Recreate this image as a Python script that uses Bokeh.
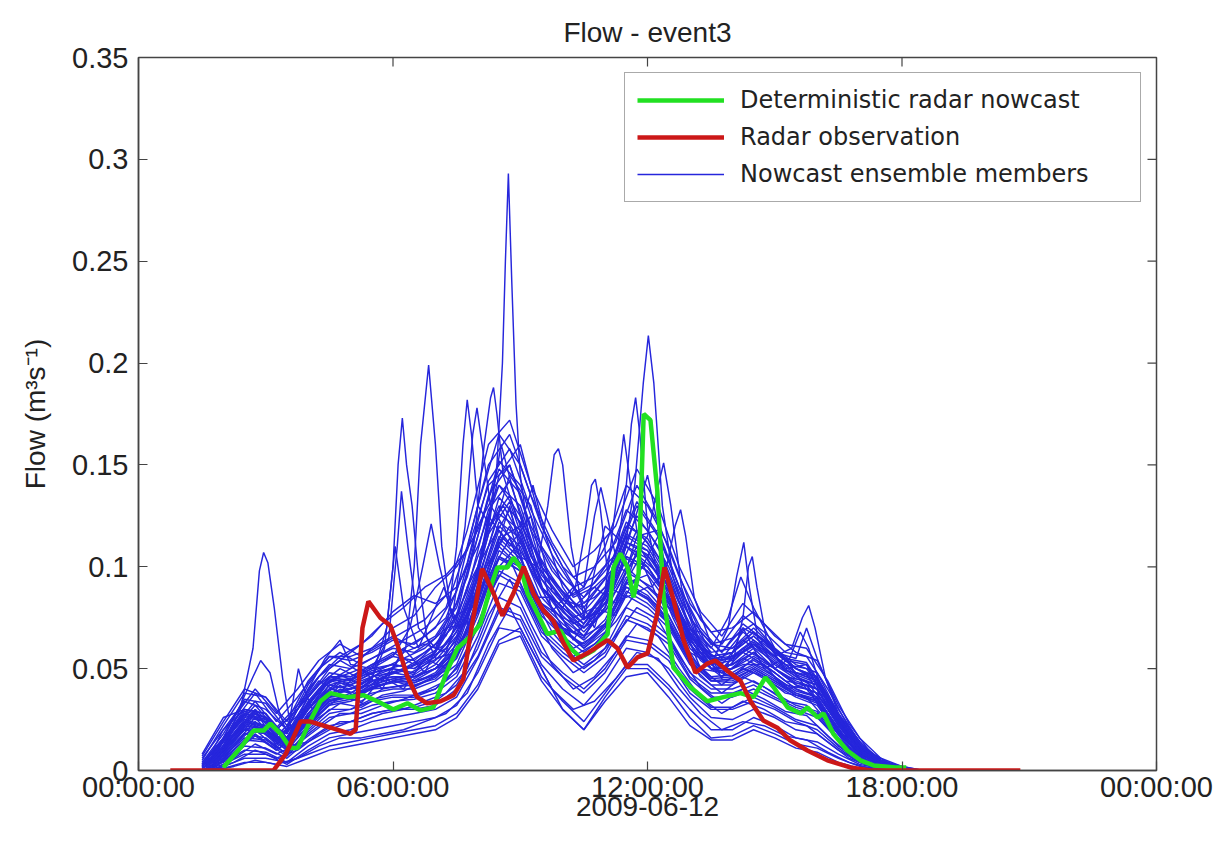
import math
from bokeh.plotting import figure
from bokeh.models import Range1d, FixedTicker, Legend, LegendItem
from bokeh.embed import file_html
from bokeh.resources import INLINE

# ---------------- data ----------------
title_text = "Flow - event3"
x_label = "2009-06-12"
y_label = "Flow (m³s⁻¹)"
x_ticks = [0, 6, 12, 18, 24]
x_tick_labels = ["00:00:00", "06:00:00", "12:00:00", "18:00:00", "00:00:00"]
y_ticks = [0, 0.05, 0.1, 0.15, 0.2, 0.25, 0.3, 0.35]
y_tick_labels = ["0", "0.05", "0.1", "0.15", "0.2", "0.25", "0.3", "0.35"]

# Radar observation (hours after 00:00, flow)
obs_hours = [0.75, 3.18, 3.47, 3.82, 4.05, 4.53, 5.0, 5.12, 5.28, 5.42, 5.7, 5.94, 6.1, 6.34, 6.57, 6.8,
             7.12, 7.43, 7.66, 7.85, 8.1, 8.37, 8.58, 8.84, 9.08, 9.31, 9.55, 9.78, 10.02, 10.25, 10.58,
             11.06, 11.29, 11.53, 11.76, 12.0, 12.23, 12.4, 12.61, 12.85, 13.13, 13.41, 13.6, 13.88,
             14.19, 14.43, 14.73, 15.06, 15.37, 15.77, 16.24, 16.78, 17.26, 20.79]
obs_flow = [0, 0, 0.008, 0.024, 0.024, 0.021, 0.018, 0.02, 0.07, 0.083, 0.075, 0.071, 0.062, 0.046, 0.036, 0.033,
            0.034, 0.037, 0.045, 0.07, 0.099, 0.087, 0.076, 0.087, 0.1, 0.087, 0.0785, 0.0735, 0.0625, 0.054, 0.0575,
            0.064, 0.06, 0.0505, 0.0555, 0.0575, 0.077, 0.0997, 0.084, 0.064, 0.048, 0.0525, 0.054, 0.049,
            0.044, 0.034, 0.0245, 0.021, 0.0147, 0.0098, 0.005, 0.0015, 0, 0]

# Deterministic radar nowcast
det_hours = [2.0, 2.4, 2.71, 2.95, 3.11, 3.35, 3.58, 3.75, 4.05, 4.29, 4.53, 4.93, 5.3, 5.63, 6.01, 6.34,
             6.65, 6.95, 7.28, 7.52, 7.83, 8.06, 8.3, 8.46, 8.7, 8.84, 9.01, 9.17, 9.41, 9.64, 9.95, 10.18,
             10.42, 10.73, 11.06, 11.2, 11.36, 11.53, 11.67, 11.79, 11.91, 12.07, 12.23, 12.38, 12.61, 13.01,
             13.41, 13.79, 14.19, 14.5, 14.78, 14.97, 15.3, 15.61, 15.77, 16.01, 16.15, 16.38, 16.71, 17.02,
             17.33, 17.85, 18.1]
det_flow = [0.0015, 0.011, 0.0196, 0.0196, 0.023, 0.018, 0.011, 0.011, 0.0245, 0.034, 0.038, 0.036, 0.037, 0.034, 0.03, 0.033,
            0.0295, 0.031, 0.049, 0.06, 0.066, 0.072, 0.09, 0.0997, 0.0997, 0.1045, 0.0997, 0.087, 0.077, 0.067, 0.0687, 0.06,
            0.0555, 0.059, 0.067, 0.0997, 0.1065, 0.0997, 0.085, 0.0967, 0.175, 0.172, 0.1375, 0.085, 0.0506, 0.041,
            0.034, 0.036, 0.038, 0.036, 0.0457, 0.041, 0.031, 0.028, 0.031, 0.026, 0.028, 0.018, 0.0098, 0.005,
            0.0025, 0.0015, 0.0015]

# Nowcast ensemble members on a half-hourly grid
ens_hours = [1.5, 2.0, 2.5, 3.0, 3.5, 4.0, 4.5, 5.0, 5.5, 6.0, 6.5, 7.0, 7.5, 8.0, 8.5, 9.0, 9.5, 10.0,
             10.5, 11.0, 11.5, 12.0, 12.5, 13.0, 13.5, 14.0, 14.5, 15.0, 15.5, 16.0, 16.5, 17.0, 17.5, 18.0, 18.5]
ens_members = [
    [0.002, 0.012, 0.025, 0.022, 0.012, 0.028, 0.038, 0.036, 0.042, 0.045, 0.043, 0.048, 0.06, 0.088, 0.118, 0.105, 0.082, 0.072, 0.064, 0.074, 0.095, 0.088, 0.076, 0.056, 0.046, 0.047, 0.052, 0.046, 0.039, 0.036, 0.02, 0.009, 0.003, 0.001, 0],
    [0.004, 0.018, 0.035, 0.033, 0.02, 0.04, 0.052, 0.05, 0.055, 0.06, 0.058, 0.065, 0.08, 0.115, 0.152, 0.14, 0.11, 0.095, 0.085, 0.1, 0.128, 0.118, 0.1, 0.075, 0.062, 0.065, 0.072, 0.06, 0.052, 0.048, 0.028, 0.014, 0.005, 0.002, 0],
    [0, 0.004, 0.01, 0.009, 0.004, 0.012, 0.018, 0.02, 0.024, 0.026, 0.028, 0.03, 0.036, 0.055, 0.078, 0.074, 0.052, 0.04, 0.032, 0.044, 0.06, 0.058, 0.05, 0.036, 0.026, 0.025, 0.03, 0.026, 0.02, 0.018, 0.01, 0.004, 0.001, 0, 0],
    [0.006, 0.02, 0.03, 0.026, 0.016, 0.034, 0.046, 0.044, 0.05, 0.052, 0.05, 0.058, 0.075, 0.105, 0.13, 0.112, 0.09, 0.08, 0.07, 0.082, 0.105, 0.1, 0.084, 0.062, 0.05, 0.052, 0.06, 0.05, 0.044, 0.04, 0.024, 0.011, 0.004, 0.001, 0],
    [0.001, 0.01, 0.02, 0.018, 0.01, 0.022, 0.032, 0.034, 0.038, 0.04, 0.04, 0.044, 0.052, 0.076, 0.105, 0.098, 0.076, 0.066, 0.058, 0.066, 0.086, 0.08, 0.07, 0.052, 0.042, 0.042, 0.048, 0.042, 0.036, 0.032, 0.018, 0.008, 0.003, 0.001, 0],
    [0, 0.006, 0.015, 0.014, 0.007, 0.018, 0.026, 0.028, 0.032, 0.034, 0.035, 0.038, 0.046, 0.066, 0.092, 0.088, 0.066, 0.056, 0.048, 0.056, 0.074, 0.07, 0.062, 0.045, 0.036, 0.036, 0.04, 0.035, 0.03, 0.026, 0.015, 0.006, 0.002, 0, 0],
    [0.003, 0.015, 0.03, 0.028, 0.016, 0.036, 0.048, 0.046, 0.052, 0.058, 0.052, 0.062, 0.072, 0.1, 0.145, 0.16, 0.12, 0.1, 0.082, 0.094, 0.122, 0.112, 0.094, 0.07, 0.056, 0.058, 0.066, 0.056, 0.048, 0.044, 0.026, 0.012, 0.005, 0.001, 0],
    [0, 0.006, 0.018, 0.02, 0.012, 0.024, 0.034, 0.038, 0.044, 0.046, 0.046, 0.05, 0.058, 0.07, 0.1, 0.112, 0.09, 0.076, 0.066, 0.072, 0.092, 0.096, 0.082, 0.06, 0.05, 0.05, 0.056, 0.05, 0.042, 0.038, 0.022, 0.01, 0.004, 0.001, 0],
    [0, 0.003, 0.008, 0.008, 0.003, 0.01, 0.016, 0.018, 0.02, 0.022, 0.024, 0.026, 0.032, 0.048, 0.07, 0.068, 0.046, 0.034, 0.024, 0.038, 0.052, 0.052, 0.042, 0.03, 0.02, 0.02, 0.026, 0.022, 0.016, 0.014, 0.008, 0.003, 0.001, 0, 0],
    [0.004, 0.016, 0.028, 0.025, 0.015, 0.032, 0.044, 0.042, 0.048, 0.05, 0.047, 0.054, 0.066, 0.094, 0.126, 0.118, 0.094, 0.082, 0.072, 0.084, 0.11, 0.104, 0.088, 0.066, 0.054, 0.055, 0.062, 0.054, 0.046, 0.042, 0.025, 0.011, 0.004, 0.001, 0],
    [0.002, 0.011, 0.024, 0.021, 0.011, 0.026, 0.036, 0.037, 0.04, 0.044, 0.041, 0.046, 0.056, 0.084, 0.11, 0.1, 0.078, 0.07, 0.06, 0.07, 0.09, 0.084, 0.072, 0.054, 0.044, 0.044, 0.05, 0.044, 0.037, 0.034, 0.019, 0.008, 0.003, 0.001, 0],
    [0.001, 0.008, 0.018, 0.016, 0.008, 0.02, 0.03, 0.03, 0.035, 0.037, 0.037, 0.04, 0.05, 0.07, 0.098, 0.092, 0.07, 0.06, 0.052, 0.06, 0.08, 0.075, 0.066, 0.048, 0.04, 0.04, 0.044, 0.038, 0.032, 0.029, 0.016, 0.007, 0.002, 0, 0],
    [0, 0.002, 0.006, 0.006, 0.004, 0.008, 0.012, 0.014, 0.016, 0.018, 0.02, 0.022, 0.028, 0.042, 0.064, 0.07, 0.05, 0.03, 0.02, 0.036, 0.05, 0.05, 0.04, 0.026, 0.016, 0.017, 0.022, 0.018, 0.013, 0.011, 0.006, 0.002, 0.001, 0, 0],
    [0.005, 0.022, 0.038, 0.036, 0.024, 0.044, 0.056, 0.054, 0.058, 0.064, 0.062, 0.07, 0.088, 0.13, 0.165, 0.15, 0.12, 0.1, 0.09, 0.11, 0.14, 0.13, 0.11, 0.082, 0.068, 0.07, 0.078, 0.066, 0.058, 0.054, 0.032, 0.016, 0.006, 0.002, 0],
    [0.002, 0.012, 0.022, 0.02, 0.013, 0.027, 0.037, 0.035, 0.041, 0.043, 0.044, 0.047, 0.058, 0.082, 0.112, 0.102, 0.08, 0.068, 0.062, 0.072, 0.092, 0.086, 0.074, 0.055, 0.045, 0.046, 0.051, 0.045, 0.038, 0.035, 0.02, 0.009, 0.003, 0.001, 0],
    [0.001, 0.009, 0.021, 0.019, 0.011, 0.024, 0.034, 0.036, 0.04, 0.041, 0.042, 0.045, 0.055, 0.078, 0.108, 0.1, 0.079, 0.069, 0.06, 0.068, 0.088, 0.082, 0.072, 0.053, 0.044, 0.043, 0.049, 0.043, 0.037, 0.033, 0.019, 0.008, 0.003, 0.001, 0],
    [0.003, 0.014, 0.027, 0.024, 0.014, 0.03, 0.042, 0.04, 0.046, 0.048, 0.046, 0.052, 0.064, 0.09, 0.122, 0.114, 0.09, 0.078, 0.068, 0.08, 0.104, 0.098, 0.084, 0.062, 0.05, 0.052, 0.058, 0.05, 0.043, 0.04, 0.023, 0.01, 0.004, 0.001, 0],
    [0, 0.005, 0.012, 0.011, 0.006, 0.015, 0.022, 0.024, 0.028, 0.03, 0.031, 0.034, 0.042, 0.06, 0.085, 0.08, 0.058, 0.048, 0.04, 0.05, 0.066, 0.064, 0.056, 0.04, 0.031, 0.031, 0.036, 0.031, 0.025, 0.022, 0.012, 0.005, 0.002, 0, 0],
    [0.002, 0.01, 0.02, 0.018, 0.01, 0.022, 0.033, 0.035, 0.04, 0.044, 0.046, 0.05, 0.06, 0.08, 0.104, 0.098, 0.08, 0.07, 0.066, 0.08, 0.112, 0.108, 0.09, 0.064, 0.052, 0.056, 0.064, 0.056, 0.048, 0.044, 0.026, 0.012, 0.004, 0.001, 0],
    [0.001, 0.007, 0.016, 0.015, 0.008, 0.019, 0.028, 0.03, 0.034, 0.036, 0.036, 0.04, 0.048, 0.072, 0.096, 0.09, 0.068, 0.058, 0.05, 0.058, 0.076, 0.072, 0.064, 0.046, 0.038, 0.038, 0.042, 0.036, 0.031, 0.028, 0.015, 0.006, 0.002, 0, 0],
    [0.007, 0.024, 0.04, 0.036, 0.022, 0.042, 0.056, 0.056, 0.06, 0.066, 0.06, 0.066, 0.082, 0.12, 0.14, 0.125, 0.1, 0.086, 0.074, 0.088, 0.115, 0.108, 0.09, 0.068, 0.056, 0.058, 0.066, 0.058, 0.05, 0.046, 0.027, 0.012, 0.005, 0.001, 0],
    [0.002, 0.012, 0.023, 0.02, 0.012, 0.025, 0.035, 0.036, 0.041, 0.044, 0.043, 0.047, 0.057, 0.085, 0.114, 0.104, 0.081, 0.07, 0.061, 0.071, 0.09, 0.085, 0.073, 0.054, 0.044, 0.045, 0.05, 0.044, 0.038, 0.034, 0.019, 0.008, 0.003, 0.001, 0],
    [0, 0.001, 0.004, 0.004, 0.002, 0.006, 0.01, 0.012, 0.014, 0.016, 0.018, 0.02, 0.026, 0.04, 0.062, 0.066, 0.044, 0.03, 0.02, 0.034, 0.046, 0.048, 0.036, 0.022, 0.015, 0.015, 0.02, 0.016, 0.011, 0.009, 0.004, 0.001, 0, 0, 0],
    [0.003, 0.015, 0.029, 0.026, 0.016, 0.033, 0.045, 0.043, 0.049, 0.052, 0.05, 0.056, 0.07, 0.098, 0.134, 0.122, 0.096, 0.084, 0.074, 0.086, 0.112, 0.106, 0.09, 0.067, 0.055, 0.056, 0.063, 0.055, 0.047, 0.043, 0.025, 0.011, 0.004, 0.001, 0],
    [0.008, 0.026, 0.03, 0.028, 0.012, 0.014, 0.02, 0.024, 0.028, 0.03, 0.03, 0.032, 0.04, 0.056, 0.08, 0.076, 0.056, 0.046, 0.038, 0.048, 0.064, 0.062, 0.054, 0.038, 0.03, 0.03, 0.034, 0.03, 0.024, 0.02, 0.011, 0.004, 0.001, 0, 0],
    [0.003, 0.016, 0.028, 0.024, 0.018, 0.036, 0.05, 0.058, 0.066, 0.078, 0.086, 0.082, 0.09, 0.11, 0.14, 0.13, 0.098, 0.084, 0.08, 0.094, 0.12, 0.114, 0.096, 0.07, 0.058, 0.06, 0.07, 0.06, 0.05, 0.046, 0.027, 0.012, 0.004, 0.001, 0],
    [0.002, 0.012, 0.024, 0.02, 0.014, 0.03, 0.044, 0.05, 0.06, 0.07, 0.076, 0.09, 0.1, 0.118, 0.148, 0.136, 0.1, 0.088, 0.078, 0.09, 0.116, 0.11, 0.092, 0.066, 0.054, 0.058, 0.068, 0.058, 0.05, 0.044, 0.025, 0.011, 0.004, 0.001, 0],
]

# More ensemble members on a grid shifted by a quarter hour
ens_hours_b = [1.75, 2.25, 2.75, 3.25, 3.75, 4.25, 4.75, 5.25, 5.75, 6.25, 6.75, 7.25, 7.75, 8.25, 8.75, 9.25, 9.75,
               10.25, 10.75, 11.25, 11.75, 12.25, 12.75, 13.25, 13.75, 14.25, 14.75, 15.25, 15.75, 16.25, 16.75, 17.25, 17.75, 18.25]
ens_members_b = [
    [0.004, 0.02, 0.032, 0.02, 0.03, 0.042, 0.05, 0.045, 0.05, 0.055, 0.06, 0.07, 0.095, 0.135, 0.15, 0.12, 0.1, 0.085, 0.09, 0.1, 0.125, 0.11, 0.085, 0.066, 0.055, 0.068, 0.06, 0.052, 0.05, 0.035, 0.018, 0.007, 0.002, 0],
    [0.002, 0.014, 0.026, 0.014, 0.024, 0.036, 0.044, 0.04, 0.047, 0.05, 0.056, 0.062, 0.08, 0.12, 0.135, 0.105, 0.09, 0.075, 0.08, 0.09, 0.11, 0.1, 0.078, 0.058, 0.05, 0.06, 0.054, 0.046, 0.044, 0.03, 0.015, 0.006, 0.002, 0],
    [0.001, 0.008, 0.018, 0.01, 0.018, 0.028, 0.036, 0.034, 0.04, 0.042, 0.048, 0.052, 0.068, 0.1, 0.12, 0.09, 0.072, 0.06, 0.066, 0.078, 0.095, 0.086, 0.066, 0.05, 0.042, 0.05, 0.046, 0.038, 0.036, 0.024, 0.011, 0.004, 0.001, 0],
    [0.005, 0.024, 0.038, 0.024, 0.036, 0.05, 0.058, 0.052, 0.058, 0.064, 0.07, 0.08, 0.11, 0.15, 0.165, 0.135, 0.112, 0.095, 0.1, 0.112, 0.14, 0.122, 0.095, 0.074, 0.062, 0.076, 0.068, 0.058, 0.056, 0.04, 0.021, 0.008, 0.002, 0],
    [0.002, 0.012, 0.022, 0.013, 0.02, 0.032, 0.04, 0.037, 0.044, 0.046, 0.052, 0.057, 0.074, 0.11, 0.128, 0.098, 0.08, 0.068, 0.073, 0.084, 0.102, 0.093, 0.072, 0.054, 0.046, 0.055, 0.05, 0.042, 0.04, 0.027, 0.013, 0.005, 0.001, 0],
    [0.003, 0.016, 0.029, 0.017, 0.027, 0.039, 0.047, 0.042, 0.049, 0.052, 0.058, 0.066, 0.088, 0.128, 0.142, 0.112, 0.095, 0.08, 0.085, 0.095, 0.118, 0.105, 0.082, 0.062, 0.052, 0.064, 0.057, 0.049, 0.047, 0.032, 0.016, 0.006, 0.002, 0],
    [0, 0.004, 0.01, 0.006, 0.01, 0.018, 0.024, 0.024, 0.028, 0.03, 0.034, 0.038, 0.05, 0.076, 0.094, 0.072, 0.052, 0.04, 0.046, 0.058, 0.072, 0.066, 0.05, 0.036, 0.028, 0.034, 0.03, 0.024, 0.022, 0.014, 0.006, 0.002, 0, 0],
    [0.003, 0.018, 0.03, 0.012, 0.03, 0.044, 0.038, 0.05, 0.04, 0.06, 0.048, 0.07, 0.072, 0.125, 0.11, 0.125, 0.078, 0.09, 0.07, 0.105, 0.095, 0.115, 0.07, 0.068, 0.045, 0.07, 0.05, 0.055, 0.04, 0.036, 0.014, 0.006, 0.001, 0],
    [0.001, 0.01, 0.02, 0.011, 0.022, 0.03, 0.042, 0.033, 0.046, 0.04, 0.055, 0.05, 0.078, 0.096, 0.13, 0.085, 0.085, 0.064, 0.08, 0.076, 0.108, 0.084, 0.076, 0.05, 0.048, 0.052, 0.052, 0.04, 0.042, 0.024, 0.012, 0.004, 0.001, 0],
    [0.006, 0.026, 0.04, 0.028, 0.04, 0.054, 0.062, 0.056, 0.062, 0.068, 0.074, 0.086, 0.118, 0.16, 0.172, 0.14, 0.118, 0.1, 0.108, 0.12, 0.148, 0.13, 0.1, 0.078, 0.066, 0.082, 0.072, 0.062, 0.06, 0.044, 0.023, 0.009, 0.003, 0],
    [0, 0.006, 0.013, 0.008, 0.013, 0.021, 0.028, 0.028, 0.032, 0.035, 0.039, 0.044, 0.058, 0.086, 0.104, 0.08, 0.06, 0.048, 0.054, 0.066, 0.08, 0.074, 0.056, 0.041, 0.033, 0.04, 0.035, 0.029, 0.027, 0.017, 0.008, 0.003, 0.001, 0],
    [0.002, 0.013, 0.024, 0.015, 0.025, 0.035, 0.043, 0.039, 0.046, 0.049, 0.054, 0.06, 0.077, 0.116, 0.132, 0.102, 0.086, 0.072, 0.077, 0.088, 0.106, 0.097, 0.075, 0.056, 0.048, 0.058, 0.052, 0.044, 0.042, 0.028, 0.014, 0.005, 0.001, 0],
    [0.002, 0.015, 0.028, 0.018, 0.022, 0.04, 0.046, 0.05, 0.044, 0.058, 0.062, 0.058, 0.09, 0.11, 0.145, 0.13, 0.088, 0.08, 0.09, 0.082, 0.115, 0.118, 0.09, 0.06, 0.054, 0.058, 0.064, 0.05, 0.052, 0.03, 0.017, 0.006, 0.002, 0],
    [0, 0.002, 0.005, 0.003, 0.006, 0.012, 0.016, 0.016, 0.018, 0.02, 0.024, 0.028, 0.038, 0.062, 0.08, 0.06, 0.04, 0.03, 0.034, 0.045, 0.058, 0.055, 0.04, 0.028, 0.02, 0.024, 0.022, 0.017, 0.015, 0.009, 0.004, 0.001, 0, 0],
    [0.004, 0.021, 0.034, 0.021, 0.032, 0.046, 0.054, 0.048, 0.054, 0.06, 0.066, 0.075, 0.102, 0.142, 0.158, 0.128, 0.106, 0.09, 0.095, 0.106, 0.132, 0.116, 0.09, 0.07, 0.058, 0.072, 0.064, 0.055, 0.053, 0.037, 0.019, 0.007, 0.002, 0],
    [0.001, 0.009, 0.017, 0.01, 0.017, 0.026, 0.033, 0.031, 0.037, 0.039, 0.044, 0.049, 0.064, 0.095, 0.114, 0.088, 0.068, 0.056, 0.062, 0.073, 0.088, 0.081, 0.062, 0.046, 0.038, 0.046, 0.041, 0.034, 0.032, 0.021, 0.01, 0.004, 0.001, 0],
    [0.003, 0.017, 0.03, 0.02, 0.03, 0.046, 0.056, 0.062, 0.072, 0.08, 0.09, 0.096, 0.108, 0.14, 0.15, 0.118, 0.098, 0.086, 0.092, 0.104, 0.13, 0.115, 0.09, 0.068, 0.058, 0.07, 0.064, 0.054, 0.052, 0.036, 0.018, 0.007, 0.002, 0],
]

# Ensemble members with sharp peaks, each on its own time points
spike_hours_a = [1.6, 2.0, 2.4, 2.7, 2.85, 2.95, 3.05, 3.2, 3.4, 3.6, 4.0, 4.5, 5.0, 5.5, 6.0, 6.5, 7.0, 7.5, 8.0, 8.5,
                 9.0, 9.5, 10.0, 10.5, 11.0, 11.4, 11.7, 11.9, 12.02, 12.15, 12.35, 12.6, 13.0, 13.5, 14.0, 14.5, 15.0, 15.5, 16.0, 16.5,
                 17.0, 17.5, 18.0]
spike_flow_a = [0.002, 0.012, 0.03, 0.06, 0.098, 0.107, 0.102, 0.08, 0.045, 0.02, 0.03, 0.04, 0.038, 0.044, 0.046, 0.044, 0.05, 0.062, 0.09, 0.12,
                0.11, 0.085, 0.074, 0.066, 0.08, 0.1, 0.14, 0.19, 0.2135, 0.19, 0.13, 0.095, 0.07, 0.05, 0.048, 0.054, 0.048, 0.04, 0.036, 0.02,
                0.009, 0.003, 0]
spike_hours_b = [1.6, 2.0, 2.4, 2.7, 2.88, 3.1, 3.3, 3.5, 3.65, 3.77, 3.9, 4.1, 4.5, 5.0, 5.5, 6.0, 6.3, 6.5, 6.65, 6.84,
                 7.0, 7.15, 7.35, 7.6, 8.0, 8.5, 9.0, 9.5, 10.0, 10.5, 11.0, 11.5, 12.0, 12.5, 13.0, 13.5, 14.0, 14.5, 15.0, 15.5,
                 16.0, 16.5, 17.0, 17.5, 18.0]
spike_flow_b = [0.003, 0.016, 0.032, 0.046, 0.054, 0.048, 0.03, 0.018, 0.035, 0.05, 0.04, 0.03, 0.042, 0.045, 0.048, 0.05, 0.06, 0.1, 0.16, 0.199,
                0.16, 0.11, 0.08, 0.07, 0.085, 0.115, 0.108, 0.09, 0.078, 0.07, 0.082, 0.105, 0.1, 0.085, 0.064, 0.052, 0.054, 0.062, 0.052, 0.045,
                0.042, 0.024, 0.011, 0.004, 0]
spike_hours_c = [1.6, 2.0, 2.5, 3.0, 3.5, 4.0, 4.5, 5.0, 5.5, 5.8, 6.0, 6.12, 6.22, 6.32, 6.45, 6.6, 6.8, 7.0, 7.5, 8.0,
                 8.5, 9.0, 9.5, 10.0, 10.5, 11.0, 11.3, 11.5, 11.62, 11.72, 11.82, 12.0, 12.3, 12.6, 13.0, 13.5, 13.9, 14.1, 14.27, 14.4,
                 14.6, 15.0, 15.5, 16.0, 16.5, 17.0, 17.5, 18.0]
spike_flow_c = [0.001, 0.01, 0.02, 0.019, 0.012, 0.026, 0.038, 0.04, 0.045, 0.06, 0.1, 0.15, 0.173, 0.15, 0.13, 0.095, 0.065, 0.055, 0.058, 0.078,
                0.105, 0.1, 0.082, 0.075, 0.07, 0.085, 0.11, 0.14, 0.17, 0.183, 0.165, 0.12, 0.09, 0.075, 0.058, 0.052, 0.07, 0.095, 0.112, 0.09,
                0.065, 0.05, 0.042, 0.038, 0.022, 0.01, 0.004, 0]
spike_hours_d = [1.6, 2.0, 2.5, 3.0, 3.5, 4.0, 4.5, 5.0, 5.5, 5.9, 6.1, 6.2, 6.35, 6.6, 7.0, 7.3, 7.5, 7.65, 7.75, 7.85,
                 8.0, 8.3, 8.6, 9.0, 9.5, 10.0, 10.5, 11.0, 11.25, 11.44, 11.6, 11.8, 12.1, 12.5, 13.0, 13.5, 14.0, 14.5, 15.0, 15.4,
                 15.65, 15.8, 15.95, 16.2, 16.5, 17.0, 17.5, 18.0]
spike_flow_d = [0.003, 0.014, 0.026, 0.024, 0.015, 0.03, 0.044, 0.045, 0.05, 0.065, 0.11, 0.137, 0.11, 0.07, 0.06, 0.075, 0.11, 0.16, 0.182, 0.165,
                0.13, 0.12, 0.13, 0.115, 0.09, 0.08, 0.072, 0.088, 0.13, 0.165, 0.14, 0.11, 0.1, 0.088, 0.066, 0.054, 0.055, 0.062, 0.056, 0.06,
                0.075, 0.081, 0.07, 0.045, 0.028, 0.013, 0.005, 0.001]
spike_hours_e = [1.6, 2.0, 2.5, 3.0, 3.5, 4.0, 4.5, 5.0, 5.5, 6.0, 6.5, 7.0, 7.4, 7.7, 7.88, 7.98, 8.1, 8.3, 8.6, 9.0,
                 9.4, 9.65, 9.8, 9.9, 10.0, 10.2, 10.5, 11.0, 11.5, 12.0, 12.2, 12.38, 12.55, 12.8, 13.2, 13.6, 14.0, 14.5, 15.0, 15.35,
                 15.6, 15.8, 16.1, 16.5, 17.0, 17.5, 18.0]
spike_flow_e = [0.002, 0.01, 0.022, 0.02, 0.011, 0.026, 0.036, 0.04, 0.042, 0.048, 0.052, 0.058, 0.075, 0.12, 0.165, 0.178, 0.16, 0.13, 0.12, 0.105,
                0.1, 0.13, 0.155, 0.158, 0.15, 0.11, 0.075, 0.078, 0.098, 0.115, 0.135, 0.151, 0.13, 0.09, 0.065, 0.05, 0.05, 0.058, 0.05, 0.055,
                0.068, 0.06, 0.04, 0.025, 0.012, 0.004, 0.001]
spike_hours_f = [1.6, 2.0, 2.5, 3.0, 3.5, 4.0, 4.5, 5.0, 5.5, 6.0, 6.5, 7.0, 7.5, 8.0, 8.3, 8.45, 8.58, 8.65, 8.72, 8.8,
                 8.9, 9.0, 9.2, 9.5, 10.0, 10.3, 10.55, 10.68, 10.77, 10.88, 11.1, 11.5, 12.0, 12.5, 13.0, 13.5, 14.0, 14.25, 14.38, 14.47,
                 14.58, 14.8, 15.2, 15.6, 16.0, 16.5, 17.0, 17.5, 18.0]
spike_flow_f = [0.002, 0.012, 0.024, 0.022, 0.013, 0.028, 0.04, 0.042, 0.046, 0.05, 0.048, 0.056, 0.068, 0.095, 0.125, 0.15, 0.2, 0.25, 0.293, 0.24,
                0.18, 0.145, 0.115, 0.09, 0.08, 0.09, 0.12, 0.14, 0.143, 0.13, 0.09, 0.085, 0.09, 0.08, 0.062, 0.05, 0.052, 0.075, 0.1, 0.105,
                0.09, 0.065, 0.05, 0.045, 0.04, 0.023, 0.01, 0.004, 0.001]
spike_hours_g = [1.6, 2.0, 2.5, 3.0, 3.5, 4.0, 4.5, 5.0, 5.5, 6.0, 6.5, 7.0, 7.5, 7.9, 8.15, 8.3, 8.37, 8.45, 8.6, 8.9,
                 9.3, 9.7, 10.1, 10.5, 10.75, 10.9, 11.05, 11.3, 11.7, 12.1, 12.45, 12.65, 12.78, 12.9, 13.1, 13.5, 14.0, 14.5, 15.0, 15.5,
                 15.75, 16.0, 16.5, 17.0, 17.5, 18.0]
spike_flow_g = [0.003, 0.015, 0.028, 0.025, 0.016, 0.032, 0.046, 0.046, 0.052, 0.056, 0.054, 0.062, 0.076, 0.11, 0.16, 0.183, 0.188, 0.175, 0.145, 0.125,
                0.11, 0.095, 0.085, 0.09, 0.125, 0.139, 0.125, 0.1, 0.095, 0.09, 0.1, 0.12, 0.128, 0.115, 0.085, 0.062, 0.06, 0.068, 0.058, 0.055,
                0.07, 0.055, 0.03, 0.014, 0.005, 0.001]
spike_hours_h = [1.6, 2.0, 2.5, 3.0, 3.5, 4.0, 4.4, 4.75, 5.0, 5.5, 6.0, 6.4, 6.7, 6.9, 7.1, 7.4, 7.8, 8.2, 8.6, 9.0,
                 9.3, 9.6, 10.0, 10.5, 11.0, 11.5, 12.0, 12.5, 13.0, 13.5, 13.9, 14.2, 14.5, 15.0, 15.5, 16.0, 16.5, 17.0, 17.5, 18.0]
spike_flow_h = [0.004, 0.02, 0.034, 0.03, 0.02, 0.04, 0.055, 0.064, 0.052, 0.05, 0.056, 0.07, 0.1, 0.121, 0.1, 0.075, 0.08, 0.1, 0.115, 0.12,
                0.14, 0.115, 0.09, 0.075, 0.12, 0.11, 0.1, 0.085, 0.07, 0.06, 0.075, 0.095, 0.08, 0.06, 0.05, 0.045, 0.026, 0.012, 0.005, 0.001]
spike_hours_i = [1.6, 2.0, 2.5, 3.0, 3.5, 4.0, 4.5, 5.0, 5.5, 5.85, 6.05, 6.25, 6.6, 7.0, 7.2, 7.5, 8.0, 8.3, 8.55, 8.8,
                 9.2, 9.6, 10.0, 10.5, 11.0, 11.5, 11.8, 12.0, 12.2, 12.5, 13.0, 13.5, 14.0, 14.5, 15.0, 15.5, 16.0, 16.5, 17.0, 17.5, 18.0]
spike_flow_i = [0.002, 0.01, 0.02, 0.019, 0.012, 0.024, 0.034, 0.036, 0.045, 0.07, 0.11, 0.08, 0.06, 0.08, 0.09, 0.07, 0.095, 0.13, 0.16, 0.14,
                0.11, 0.085, 0.07, 0.065, 0.085, 0.11, 0.13, 0.145, 0.125, 0.09, 0.065, 0.05, 0.046, 0.055, 0.048, 0.04, 0.036, 0.02, 0.009, 0.003, 0]

spike_members = [
    (spike_hours_a, spike_flow_a), (spike_hours_b, spike_flow_b), (spike_hours_c, spike_flow_c),
    (spike_hours_d, spike_flow_d), (spike_hours_e, spike_flow_e), (spike_hours_f, spike_flow_f),
    (spike_hours_g, spike_flow_g), (spike_hours_h, spike_flow_h), (spike_hours_i, spike_flow_i),
]

# ---------------- build ----------------
xs, ys = [], []
for m in ens_members:
    assert len(m) == len(ens_hours), len(m)
    xs.append(ens_hours)
    ys.append(m)
for m in ens_members_b:
    assert len(m) == len(ens_hours_b), len(m)
    xs.append(ens_hours_b)
    ys.append(m)
for hh, ff in spike_members:
    assert len(hh) == len(ff), (len(hh), len(ff))
    xs.append(hh)
    ys.append(ff)
assert len(obs_hours) == len(obs_flow)
assert len(det_hours) == len(det_flow)

FONT = "Liberation Sans"
AX = "#444444"
TXT = "#222222"

p = figure(frame_width=1018, frame_height=713, min_border_left=138, min_border_right=61,
           min_border_top=57, min_border_bottom=78, x_range=Range1d(0, 24), y_range=Range1d(0, 0.35),
           output_backend="svg", toolbar_location=None, background_fill_color="white",
           border_fill_color="white")
p.grid.visible = False
p.outline_line_color = AX
p.outline_line_width = 1.5

p.title.text = title_text
p.title.align = "center"
p.title.text_font = FONT
p.title.text_font_size = "28px"
p.title.text_font_style = "normal"
p.title.text_color = TXT
p.title.standoff = 20

ens = p.multi_line(xs=xs, ys=ys, line_color="#2626dc", line_width=1.45)
det = p.line(det_hours, det_flow, line_color="#22e022", line_width=4.5)
obs = p.line(obs_hours, obs_flow, line_color="#cc1818", line_width=4.5)

# inward tick marks on the top and right edges of the box
p.ray(x=x_ticks[1:-1], y=[y_ticks[-1]] * len(x_ticks[1:-1]), length=9, length_units="screen",
      angle=-math.pi / 2, line_color=AX, line_width=1.2)
p.ray(x=[x_ticks[-1]] * len(y_ticks[1:-1]), y=y_ticks[1:-1], length=9, length_units="screen",
      angle=math.pi, line_color=AX, line_width=1.2)

xa = p.xaxis[0]
xa.ticker = FixedTicker(ticks=x_ticks)
xa.major_label_overrides = {t: l for t, l in zip(x_ticks, x_tick_labels)}
xa.axis_label = x_label
ya = p.yaxis[0]
ya.ticker = FixedTicker(ticks=y_ticks)
ya.major_label_overrides = {t: l for t, l in zip(y_ticks, y_tick_labels)}
ya.axis_label = y_label
for ax in (xa, ya):
    ax.major_tick_in = 9
    ax.major_tick_out = 0
    ax.minor_tick_line_color = None
    ax.axis_line_color = AX
    ax.axis_line_width = 1.5
    ax.major_tick_line_color = AX
    ax.major_tick_line_width = 1.2
    ax.major_label_text_font = FONT
    ax.major_label_text_font_size = "29px"
    ax.major_label_text_color = TXT
    ax.axis_label_text_font = FONT
    ax.axis_label_text_font_size = "28px"
    ax.axis_label_text_font_style = "normal"
    ax.axis_label_text_color = TXT
xa.major_label_standoff = 0
xa.axis_label_standoff = -9
ya.major_label_standoff = 10
ya.axis_label_standoff = 18

legend = Legend(items=[
    LegendItem(label="Deterministic radar nowcast", renderers=[det]),
    LegendItem(label="Radar observation", renderers=[obs]),
    LegendItem(label="Nowcast ensemble members", renderers=[ens]),
], location="top_right")
legend.margin = 15
legend.padding = 12
legend.spacing = 7
legend.glyph_width = 87
legend.glyph_height = 30
legend.label_height = 30
legend.label_width = 388
legend.label_standoff = 16
legend.label_text_font = "DejaVu Sans"
legend.label_text_font_size = "24px"
legend.label_text_color = TXT
legend.border_line_color = "#555555"
legend.border_line_width = 1.5
legend.background_fill_alpha = 1.0
p.add_layout(legend, "center")

open("out.html", "w").write(file_html(p, INLINE))
